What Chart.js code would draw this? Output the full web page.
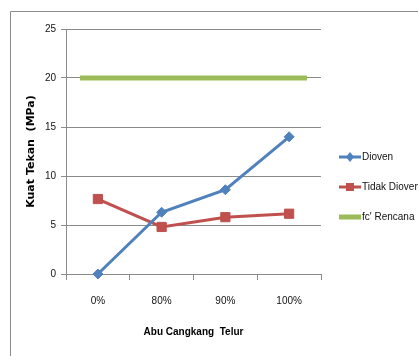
<!DOCTYPE html>
<html>
<head>
<meta charset="utf-8">
<script src="https://cdn.jsdelivr.net/npm/chart.js@4.4.1/dist/chart.umd.min.js"></script>
<style>
  html, body { margin: 0; padding: 0; background: #fff; overflow: hidden; }
  #wrap { width: 418px; height: 356px; position: relative; }
</style>
</head>
<body>
<div id="wrap"><canvas id="chart" width="418" height="356"></canvas></div>
<script>
  // data
  const categories = ['0%', '80%', '90%', '100%'];
  const dioven = [0, 6.3, 8.6, 14.0];
  const tidakDioven = [7.65, 4.8, 5.8, 6.15];
  const rencanaX = [-0.28, 3.28];
  const rencanaY = [20, 20];
  const yTicks = [0, 5, 10, 15, 20, 25];

  const BLUE = '#4F81BD', RED = '#C0504D', GREEN = '#9BBB59', GRID = '#8a8a8a';

  // small icons for the legend: line with marker
  function legendIcon(color, marker){
    const c = document.createElement('canvas');
    c.width = 22; c.height = 12;
    const g = c.getContext('2d');
    g.strokeStyle = color; g.fillStyle = color;
    g.lineWidth = marker === 'none' ? 5 : 3;
    g.beginPath(); g.moveTo(0, 6); g.lineTo(22, 6); g.stroke();
    if (marker === 'diamond') {
      g.beginPath(); g.moveTo(11, 1); g.lineTo(15, 6); g.lineTo(11, 11); g.lineTo(7, 6); g.closePath(); g.fill();
    } else if (marker === 'square') {
      g.fillRect(7, 2, 8, 8);
    }
    return c;
  }
  const icons = [legendIcon(BLUE, 'diamond'), legendIcon(RED, 'square'), legendIcon(GREEN, 'none')];

  const frame = {
    id: 'frame',
    beforeDraw(chart){
      const ctx = chart.ctx;
      ctx.save();
      ctx.strokeStyle = '#8c8c8c';
      ctx.lineWidth = 1;
      ctx.beginPath();
      ctx.moveTo(10.5, 356); ctx.lineTo(10.5, 11.5); ctx.lineTo(418, 11.5);
      ctx.stroke();
      ctx.restore();
    }
  };

  const sideLegend = {
    id: 'sideLegend',
    afterDraw(chart){
      const ctx = chart.ctx;
      ctx.save();
      ctx.font = '10px "Liberation Sans", Arial, sans-serif';
      ctx.fillStyle = '#111';
      ctx.textBaseline = 'middle';
      chart.data.datasets.forEach((ds, i) => {
        const y = 157 + i * 30;
        ctx.drawImage(icons[i], 339, y - 6);
        ctx.fillText(ds.label, 362, y);
      });
      ctx.restore();
    }
  };

  new Chart(document.getElementById('chart'), {
    type: 'line',
    data: {
      labels: categories,
      datasets: [
        { label: 'Dioven', data: dioven, borderColor: BLUE, backgroundColor: BLUE,
          borderWidth: 3, pointStyle: 'rectRot', pointRadius: 5, pointBorderWidth: 1,
          tension: 0, clip: false },
        { label: 'Tidak Dioven', data: tidakDioven, borderColor: RED, backgroundColor: RED,
          borderWidth: 3, pointStyle: 'rect', pointRadius: 6.5, pointBorderWidth: 1,
          tension: 0, clip: false },
        { label: "fc' Rencana", xAxisID: 'x2',
          data: rencanaX.map((x, i) => ({ x: x, y: rencanaY[i] })),
          borderColor: GREEN, backgroundColor: GREEN, borderWidth: 5,
          pointRadius: 0, tension: 0, clip: false }
      ]
    },
    options: {
      responsive: false,
      animation: false,
      layout: { padding: { left: 21, top: 29, right: 97, bottom: 0 } },
      plugins: { legend: { display: false }, tooltip: { enabled: false } },
      scales: {
        x: {
          type: 'category',
          offset: true,
          grid: { drawOnChartArea: false, offset: true, tickLength: 6, color: GRID },
          border: { color: GRID },
          ticks: { padding: 15, color: '#111', font: { size: 10, family: '"Liberation Sans", Arial, sans-serif' } },
          title: { display: true, text: 'Abu Cangkang  Telur', color: '#000',
            padding: { top: 0, bottom: 18 },
            font: { size: 10, weight: 'bold', family: '"Liberation Sans", Arial, sans-serif' } },
          afterFit(s){ s.height = 356 - 274; }
        },
        x2: { type: 'linear', display: false, min: -0.5, max: 3.5 },
        y: {
          min: 0, max: 25,
          afterBuildTicks(s){ s.ticks = yTicks.map(v => ({ value: v })); },
          grid: { color: GRID, tickLength: 5 },
          border: { color: GRID },
          ticks: { padding: 5, color: '#111', font: { size: 10, family: '"Liberation Sans", Arial, sans-serif' } },
          title: { display: true, text: 'Kuat Tekan  (MPa)', color: '#000',
            padding: { top: 4, bottom: 0 },
            font: { size: 11, weight: 'bold', family: '"DejaVu Sans", Verdana, sans-serif' } },
          afterFit(s){ s.width = 45; }
        }
      }
    },
    plugins: [frame, sideLegend]
  });
</script>
</body>
</html>
